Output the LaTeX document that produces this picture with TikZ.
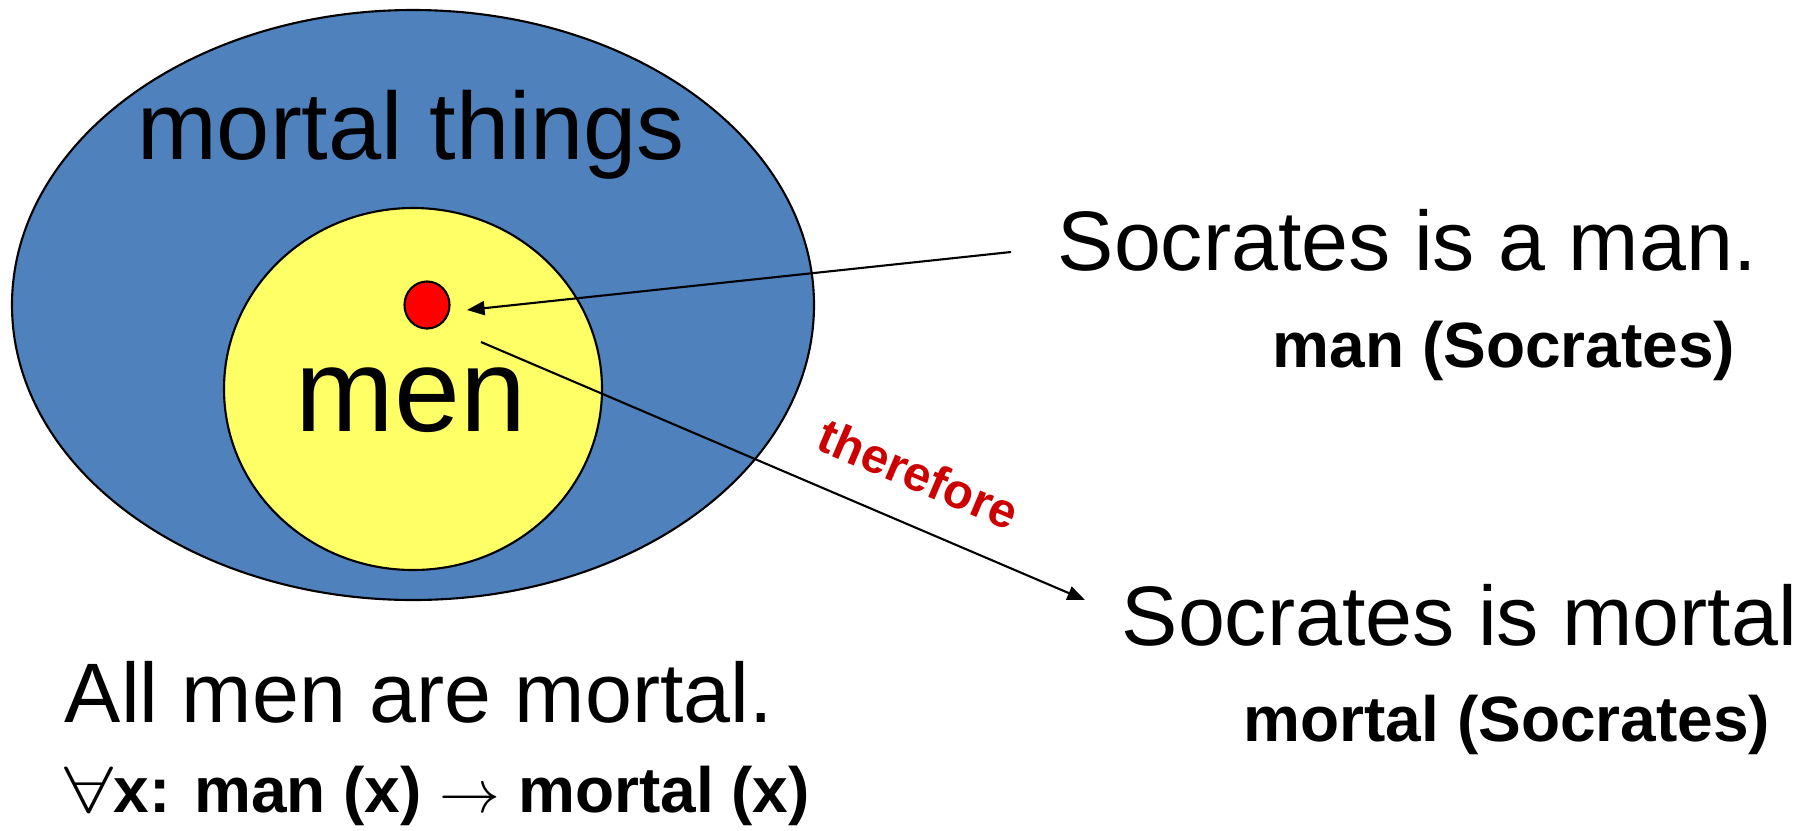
\documentclass[tikz,border=0pt]{standalone}
\usepackage{fontspec}
\setmainfont{Liberation Sans}
\usetikzlibrary{arrows.meta,shapes.geometric}
\definecolor{setblue}{HTML}{4F81BD}
\definecolor{setyellow}{HTML}{FFFF66}
\definecolor{thered}{HTML}{CC0000}
\newcommand{\wideforall}{\scalebox{1.45}[1.08]{$\forall$}}
\begin{document}
\begin{tikzpicture}[x=0.01cm,y=-0.01cm,
  outline/.style={draw=black,line width=0.6pt},
  plain/.style={font=\fontsize{24pt}{28pt}\selectfont,inner sep=0pt,anchor=base west},
  formula/.style={font=\fontsize{18.2pt}{22pt}\selectfont\bfseries,inner sep=0pt,anchor=base west},
  link/.style={line width=0.6pt,-{Triangle[length=5pt,width=4pt]}}]
\useasboundingbox (0,0) rectangle (1816,830);
% sets: mortal things containing men, Socrates as a point
\draw[outline,fill=setblue] (413,305) ellipse [x radius=401,y radius=295];
\draw[outline,fill=setyellow] (413,389) ellipse [x radius=189,y radius=181];
\node[ellipse,outline,fill=red,inner sep=0pt,minimum width=0.45cm,minimum height=0.47cm] (soc) at (427,305) {};
\node[font=\fontsize{27.2pt}{31pt}\selectfont,inner sep=0pt,anchor=base] (mortal) at (411,159) {mortal things};
\node[font=\fontsize{33.7pt}{38pt}\selectfont,inner sep=0pt,anchor=base] (men) at (411,431) {men};
% statements and their formulas
\node[plain] (s1) at (1057,270) {Socrates is a man.};
\node[formula] (f1) at (1272,367) {man (Socrates)};
\node[plain] (s2) at (1121,645) {Socrates is mortal};
\node[formula] (f2) at (1243,741) {mortal (Socrates)};
\node[plain] (s3) at (64,722) {All men are mortal.};
\node[formula] (f3) at (64,812) {\wideforall x: man (x) $\rightarrow$ mortal (x)};
% inference arrows
\coordinate (a1s) at (1011,252);
\coordinate (a1e) at (467,310);
\coordinate (a2s) at (481,342);
\coordinate (a2e) at (1085,600);
\draw[link] (a1s) -- (a1e);
\draw[link] (a2s) -- (a2e);
\node[font=\fontsize{13.9pt}{16pt}\selectfont\bfseries,text=thered,rotate=-23,inner sep=0pt] (thf) at (919,474) {therefore};
\end{tikzpicture}
\end{document}
